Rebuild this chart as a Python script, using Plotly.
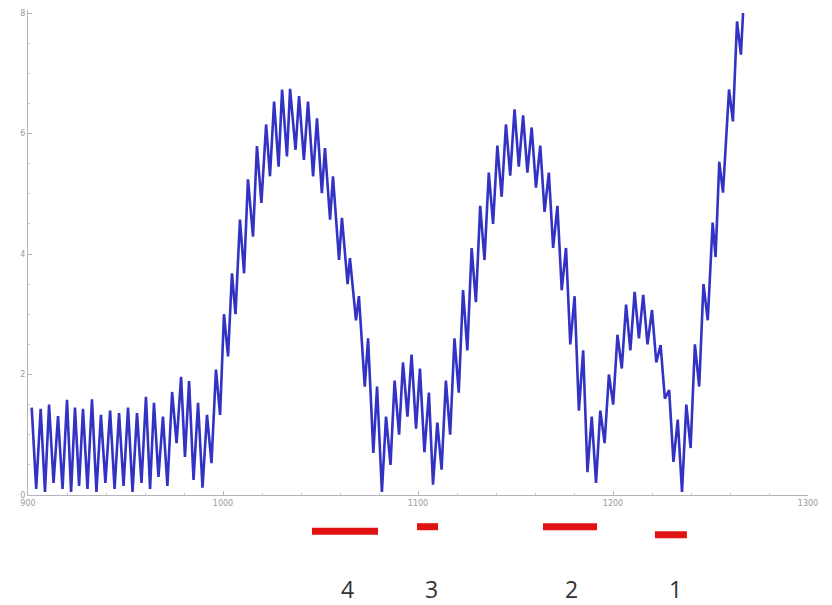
import plotly.graph_objects as go

# ---- data -----------------------------------------------------------------
# alternating peak / trough points of the oscillating blue curve
signal_x = [
    901.9, 904.2, 906.5, 908.7, 910.8, 913.1, 915.4, 917.7, 920.0, 922.1,
    924.1, 926.2, 928.2, 930.5, 932.8, 935.1, 937.4, 939.7, 942.1, 944.4,
    946.7, 949.0, 951.3, 953.6, 955.9, 958.2, 960.5, 962.6, 964.6, 966.9,
    969.2, 971.5, 973.9, 976.2, 978.5, 980.5, 982.6, 984.9, 987.2, 989.5,
    991.8, 994.1, 996.4, 998.5, 1000.5, 1002.6, 1004.6, 1006.4, 1008.7, 1010.8,
    1012.8, 1015.4, 1017.4, 1019.7, 1022.1, 1024.1, 1026.2, 1028.5, 1030.3, 1032.8,
    1034.4, 1037.2, 1039.0, 1041.5, 1043.6, 1046.2, 1048.2, 1050.7, 1052.3, 1054.9,
    1056.4, 1059.5, 1061.0, 1063.9, 1065.1, 1068.2, 1069.7, 1072.7, 1074.4, 1077.1,
    1079.0, 1081.5, 1083.6, 1085.9, 1088.0, 1090.3, 1092.3, 1094.6, 1096.7, 1099.0,
    1101.0, 1103.3, 1105.6, 1107.7, 1109.9, 1112.1, 1114.3, 1116.5, 1118.7, 1120.9,
    1123.1, 1125.3, 1127.5, 1129.7, 1131.9, 1134.1, 1136.3, 1138.5, 1140.7, 1142.9,
    1145.1, 1147.3, 1149.5, 1151.7, 1153.9, 1156.1, 1158.3, 1160.5, 1162.7, 1164.9,
    1167.1, 1169.3, 1171.5, 1173.7, 1175.9, 1178.1, 1180.3, 1182.5, 1184.7, 1186.9,
    1189.1, 1191.3, 1193.5, 1195.7, 1197.9, 1200.1, 1202.3, 1204.5, 1206.7, 1208.9,
    1211.1, 1213.3, 1215.5, 1217.7, 1220.0, 1222.2, 1224.4, 1226.6, 1228.8, 1231.0,
    1233.2, 1235.4, 1237.6, 1239.8, 1242.0, 1244.2, 1246.4, 1248.6, 1251.1, 1252.6,
    1254.5, 1256.4, 1259.5, 1261.5, 1263.6, 1265.6, 1266.7,
]
signal_y = [
    1.45, 0.10, 1.43, 0.05, 1.50, 0.20, 1.31, 0.10, 1.58, 0.05,
    1.45, 0.15, 1.43, 0.10, 1.59, 0.05, 1.33, 0.20, 1.40, 0.10,
    1.36, 0.15, 1.45, 0.05, 1.36, 0.20, 1.63, 0.10, 1.53, 0.30,
    1.30, 0.15, 1.71, 0.86, 1.96, 0.63, 1.89, 0.25, 1.53, 0.12,
    1.33, 0.53, 2.08, 1.33, 3.00, 2.30, 3.68, 3.00, 4.57, 3.68,
    5.24, 4.29, 5.79, 4.85, 6.15, 5.29, 6.53, 5.45, 6.73, 5.62,
    6.74, 5.73, 6.62, 5.56, 6.53, 5.29, 6.25, 5.01, 5.76, 4.57,
    5.29, 3.90, 4.60, 3.50, 3.93, 2.90, 3.30, 1.80, 2.60, 0.70,
    1.80, 0.05, 1.30, 0.50, 1.90, 1.00, 2.20, 1.30, 2.33, 1.10,
    2.10, 0.71, 1.70, 0.17, 1.20, 0.42, 1.90, 1.00, 2.60, 1.70,
    3.40, 2.40, 4.10, 3.20, 4.80, 3.90, 5.35, 4.50, 5.80, 4.95,
    6.15, 5.30, 6.40, 5.45, 6.30, 5.35, 6.10, 5.10, 5.80, 4.70,
    5.35, 4.10, 4.80, 3.40, 4.10, 2.50, 3.30, 1.40, 2.40, 0.38,
    1.30, 0.20, 1.40, 0.86, 2.00, 1.50, 2.66, 2.10, 3.16, 2.40,
    3.37, 2.60, 3.32, 2.50, 3.07, 2.20, 2.49, 1.60, 1.74, 0.55,
    1.25, 0.05, 1.50, 0.78, 2.50, 1.80, 3.50, 2.90, 4.52, 3.95,
    5.53, 5.02, 6.73, 6.20, 7.86, 7.31, 8.00,
]

# red marked intervals under the axis, with their numbers
band_labels = ["4", "3", "2", "1"]
band_start = [1045.6, 1099.5, 1164.1, 1221.5]
band_end = [1079.5, 1110.3, 1191.8, 1237.9]
band_row = [0.82, 0.87, 0.87, 0.78]
label_x = [1064.1, 1106.7, 1178.5, 1231.8]

x_ticks = [900, 1000, 1100, 1200, 1300]
y_ticks = [0, 2, 4, 6, 8]

# ---- figure ----------------------------------------------------------------
fig = go.Figure()

fig.add_trace(go.Scatter(
    x=signal_x, y=signal_y, mode="lines",
    line=dict(color="#3232c4", width=2.6),
    hoverinfo="skip", showlegend=False, xaxis="x", yaxis="y",
))

for xs, xe, row in zip(band_start, band_end, band_row):
    fig.add_trace(go.Scatter(
        x=[xs, xe], y=[row, row], mode="lines",
        line=dict(color="#e01212", width=7),
        hoverinfo="skip", showlegend=False, xaxis="x2", yaxis="y2",
    ))

for lx, lab in zip(label_x, band_labels):
    fig.add_annotation(
        x=lx, xref="x2", y=(605 - 589) / 595, yref="paper", text=lab,
        showarrow=False, xanchor="center", yanchor="middle",
        font=dict(family="Open Sans, sans-serif", size=23, color="#333333"),
    )

axis_common = dict(
    showgrid=False, zeroline=False, showline=True, automargin=False,
    linecolor="#b4b4b4", linewidth=1,
    ticks="inside", ticklen=4, tickcolor="#b4b4b4",
    tickfont=dict(family="DejaVu Sans, sans-serif", size=8, color="#9a9a9a"),
)

fig.update_layout(
    width=832, height=605,
    margin=dict(l=28, r=24, t=10, b=0),
    paper_bgcolor="white", plot_bgcolor="white",
    hovermode=False,
    xaxis=dict(
        range=[900, 1300], tickvals=x_ticks, domain=[0, 1], anchor="y",
        minor=dict(ticks="inside", ticklen=2, dtick=20, tickcolor="#c8c8c8"),
        **axis_common,
    ),
    yaxis=dict(
        range=[0, 8.05], tickvals=y_ticks, domain=[110 / 595, 1], anchor="x",
        minor=dict(ticks="inside", ticklen=2, dtick=0.5, tickcolor="#c8c8c8"),
        **axis_common,
    ),
    xaxis2=dict(matches="x", anchor="y2", domain=[0, 1], visible=False,
                automargin=False),
    yaxis2=dict(range=[0, 1], anchor="x2", domain=[0, 90 / 595], visible=False,
                automargin=False),
)

# remove the browser's default page margin so the figure sits at the corner
fig.write_html(
    "out.html",
    config={"displayModeBar": False, "staticPlot": True},
    post_script="document.body.style.margin='0';"
                "document.body.style.overflow='hidden';",
)
